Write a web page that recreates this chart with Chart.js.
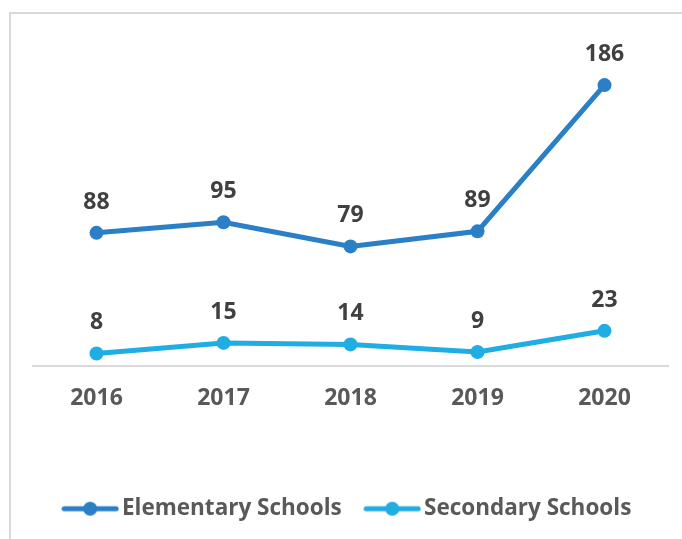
<!DOCTYPE html>
<html>
<head>
<meta charset="utf-8">
<script src="https://cdn.jsdelivr.net/npm/chart.js@4.4.1/dist/chart.umd.min.js"></script>
<style>
  html, body { margin: 0; padding: 0; background: #ffffff; }
  body { width: 682px; height: 539px; position: relative; overflow: hidden; }
  #frame { position: absolute; left: 9px; top: 12px; width: 700px; height: 560px;
           border-left: 2px solid #d9d9d9; border-top: 2px solid #d9d9d9; box-sizing: border-box; }
  #wrap { position: absolute; left: 0; top: 0; width: 682px; height: 539px; }
</style>
</head>
<body>
<div id="frame"></div>
<div id="wrap"><canvas id="c" width="682" height="539"></canvas></div>
<script>
const categories = ["2016", "2017", "2018", "2019", "2020"];
const elementaryValues = [88, 95, 79, 89, 186];
const secondaryValues = [8, 15, 14, 9, 23];
const seriesNames = ["Elementary Schools", "Secondary Schools"];
const seriesColors = ["#2A7FC7", "#1FADE4"];

const FONT = "'Open Sans', sans-serif";

function legendImage(color) {
  const cv = document.createElement('canvas');
  cv.width = 58; cv.height = 16;
  const g = cv.getContext('2d');
  g.strokeStyle = color; g.lineWidth = 5; g.lineCap = 'round';
  g.beginPath(); g.moveTo(3, 8); g.lineTo(55, 8); g.stroke();
  g.fillStyle = color;
  g.beginPath(); g.arc(29, 8, 7, 0, Math.PI * 2); g.fill();
  return cv;
}

const valueLabels = {
  id: 'valueLabels',
  afterDatasetsDraw(chart) {
    const ctx = chart.ctx;
    ctx.save();
    ctx.font = "bold 23px " + FONT;
    ctx.fillStyle = "#404040";
    ctx.textAlign = "center";
    ctx.textBaseline = "alphabetic";
    chart.data.datasets.forEach((ds, i) => {
      chart.getDatasetMeta(i).data.forEach((pt, j) => {
        ctx.fillText(String(ds.data[j]), pt.x, pt.y - 24);
      });
    });
    ctx.restore();
  }
};

new Chart(document.getElementById('c'), {
  type: 'line',
  data: {
    labels: categories,
    datasets: [
      { label: seriesNames[0], data: elementaryValues, borderColor: seriesColors[0], backgroundColor: seriesColors[0],
        borderWidth: 5, pointRadius: 7, pointHoverRadius: 7, pointBackgroundColor: seriesColors[0], pointBorderWidth: 0,
        tension: 0, pointStyle: 'circle' },
      { label: seriesNames[1], data: secondaryValues, borderColor: seriesColors[1], backgroundColor: seriesColors[1],
        borderWidth: 5, pointRadius: 7, pointHoverRadius: 7, pointBackgroundColor: seriesColors[1], pointBorderWidth: 0,
        tension: 0, pointStyle: 'circle' }
    ]
  },
  options: {
    responsive: false,
    animation: false,
    devicePixelRatio: 1,
    layout: { padding: { left: 33, right: 14, top: 64, bottom: 9 } },
    scales: {
      x: {
        offset: true,
        grid: { display: false },
        border: { display: true, color: '#d9d9d9', width: 2 },
        ticks: { color: '#595959', font: { family: FONT, size: 23, weight: 'bold' }, padding: 11 },
        afterFit(scale) { scale.height = 102; }
      },
      y: { display: false, min: 0, max: 200 }
    },
    plugins: {
      tooltip: { enabled: false },
      legend: {
        position: 'bottom',
        labels: {
          color: '#595959',
          font: { family: FONT, size: 22.5, weight: 'bold' },
          usePointStyle: true,
          pointStyleWidth: 41,
          padding: 30,
          generateLabels(chart) {
            return chart.data.datasets.map((ds, i) => ({
              text: ds.label, fillStyle: ds.borderColor, strokeStyle: ds.borderColor,
              fontColor: '#595959', pointStyle: legendImage(ds.borderColor), lineWidth: 0,
              hidden: false, datasetIndex: i
            }));
          }
        }
      }
    }
  },
  plugins: [valueLabels]
});
</script>
</body>
</html>
